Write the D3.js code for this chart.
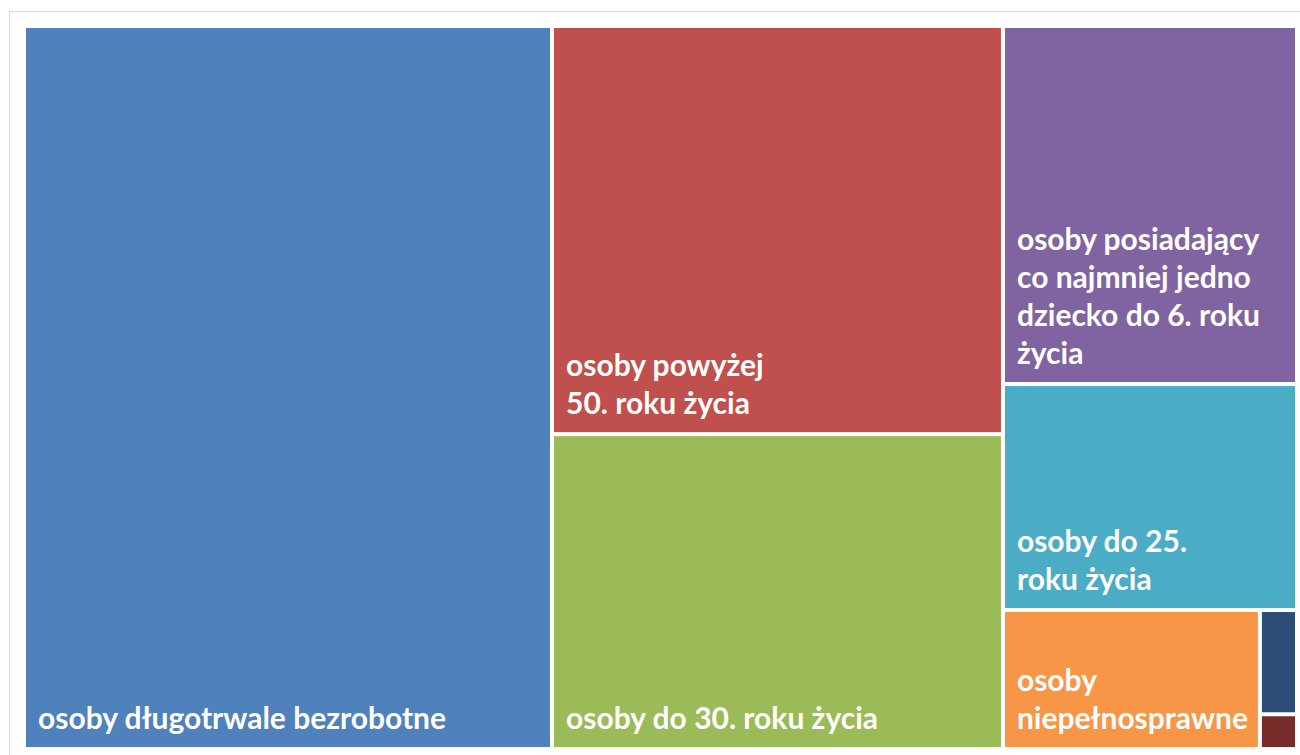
<!DOCTYPE html>
<html>
<head>
<meta charset="utf-8">
<script src="https://cdn.jsdelivr.net/npm/d3@7"></script>
<style>
  html, body { margin: 0; padding: 0; background: #ffffff; }
  svg { display: block; }
</style>
</head>
<body>
<svg id="chart" width="1300" height="755"></svg>
<script>
// Categories (largest first) (share, %)
const categories = [
  "osoby długotrwale bezrobotne",
  "osoby powyżej 50. roku życia",
  "osoby do 30. roku życia",
  "osoby posiadający co najmniej jedno dziecko do 6. roku życia",
  "osoby do 25. roku życia",
  "osoby niepełnosprawne",
  "osoby korzystające ze świadczeń pomocy społecznej",
  "osoby posiadające co najmniej jedno dziecko niepełnosprawne do 18. roku życia"
];
const values = [41.48, 20.0, 15.43, 11.44, 7.22, 3.88, 0.42, 0.14];
// Label lines as wrapped in the picture (empty = no label shown)
const labelLines = [
  ["osoby długotrwale bezrobotne"],
  ["osoby powyżej", "50. roku życia"],
  ["osoby do 30. roku życia"],
  ["osoby posiadający", "co najmniej jedno", "dziecko do 6. roku", "życia"],
  ["osoby do 25.", "roku życia"],
  ["osoby", "niepełnosprawne"],
  [],
  []
];
const colors = ["#4F81BD", "#C0504D", "#9BBB59", "#8064A2", "#4BACC6", "#F79646", "#2C4D75", "#772C2A"];

const svg = d3.select("#chart");

// outer chart frame
svg.append("rect")
  .attr("x", 9.5).attr("y", 11.5)
  .attr("width", 1310).attr("height", 770)
  .attr("fill", "#ffffff")
  .attr("stroke", "#D9D9D9")
  .attr("stroke-width", 1);

const plot = { x: 26, y: 28, w: 1269, h: 719 };

const rootData = {
  name: "root",
  children: categories.map((c, i) => ({ name: c, value: values[i], idx: i }))
};

const root = d3.hierarchy(rootData).sum(d => d.value || 0);

d3.treemap()
  .tile(d3.treemapSquarify.ratio(1))
  .size([plot.w, plot.h])
  .paddingInner(4)
  .paddingOuter(0)
  .round(false)(root);

const g = svg.append("g").attr("transform", `translate(${plot.x},${plot.y})`);

const leaf = g.selectAll("g.leaf")
  .data(root.leaves())
  .join("g")
  .attr("class", "leaf");

leaf.append("rect")
  .attr("x", d => d.x0)
  .attr("y", d => d.y0)
  .attr("width", d => Math.max(0, d.x1 - d.x0))
  .attr("height", d => Math.max(0, d.y1 - d.y0))
  .attr("fill", d => colors[d.data.idx]);

const fontSize = 30;
const lineH = 38;

leaf.each(function(d) {
  const lines = labelLines[d.data.idx];
  if (!lines.length) return;
  const t = d3.select(this).append("text")
    .attr("fill", "#ffffff")
    .attr("font-family", "Lato, 'Open Sans', sans-serif")
    .attr("font-weight", "bold")
    .attr("font-size", fontSize);
  const n = lines.length;
  lines.forEach((ln, k) => {
    t.append("tspan")
      .attr("x", d.x0 + 12)
      .attr("y", d.y1 - 18 - (n - 1 - k) * lineH)
      .text(ln);
  });
});
</script>
</body>
</html>
